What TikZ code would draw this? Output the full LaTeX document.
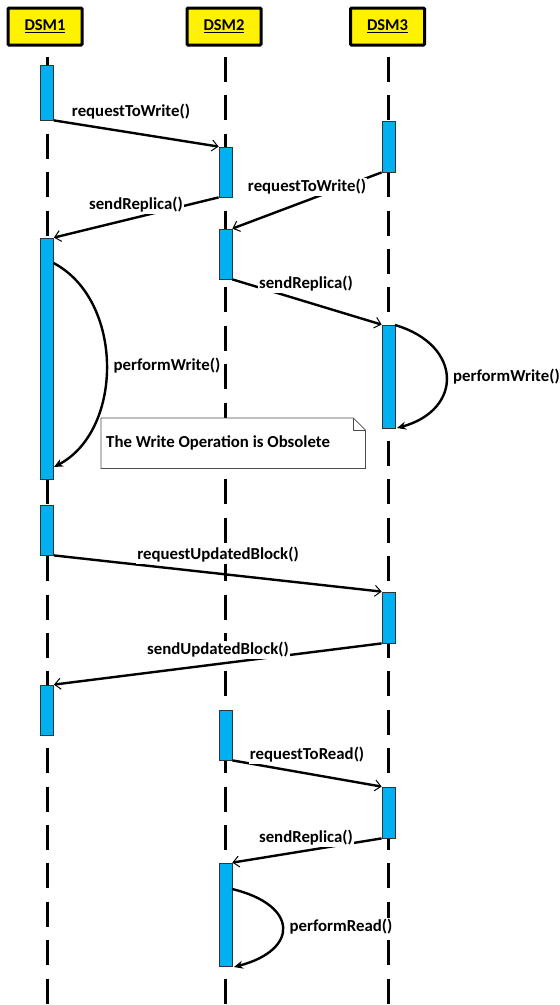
\documentclass[tikz,border=0pt]{standalone}
\usepackage{fontspec}
\setmainfont{Carlito}
\usetikzlibrary{arrows.meta}
\definecolor{actblue}{HTML}{00B0F0}
\begin{document}
\begin{tikzpicture}[x=1pt,y=-1pt,
 every node/.style={font=\fontsize{16.8}{19}\selectfont\bfseries},
 hdr/.style={draw, line width=3pt, fill=yellow, minimum width=74pt, minimum height=37pt, rounded corners=1pt, inner sep=0pt, font=\fontsize{16.5}{18}\selectfont\bfseries},
 lifeline/.style={line width=3pt, dash pattern=on 25pt off 13.4pt},
 act/.style={draw=black!80, line width=0.8pt, fill=actblue, minimum width=13pt, inner sep=0pt},
 msg/.style={line width=2.4pt, -{Straight Barb[length=6pt,width=11pt,line width=1pt]}},
 selfmsg/.style={line width=2.4pt, -{Stealth[length=9pt,width=8pt]}},
 lbl/.style={fill=white, inner sep=1pt},
 notebox/.style={draw=black!70, line width=0.8pt, fill=white},
]
\useasboundingbox (0,0) rectangle (560,1005);
\clip (0,0) rectangle (560,1005);

% headers
\node[hdr] (h1) at (45,26.5) {\underline{DSM1}};
\node[hdr] (h2) at (224,26.5) {\underline{DSM2}};
\node[hdr] (h3) at (387.5,26.5) {\underline{DSM3}};

% lifelines
\coordinate (t1) at (47,57);    \coordinate (e1) at (47,1010);
\coordinate (t2) at (225.5,57); \coordinate (e2) at (225.5,1010);
\coordinate (t3) at (388.5,57); \coordinate (e3) at (388.5,1010);
\draw[lifeline] (t1) -- (e1);
\draw[lifeline] (t2) -- (e2);
\draw[lifeline] (t3) -- (e3);

% activations DSM1
\node[act, minimum height=55pt]  (a1) at (47,92.5) {};
\node[act, minimum height=241pt] (a2) at (47,358.5) {};
\node[act, minimum height=50pt]  (a3) at (47,530) {};
\node[act, minimum height=50pt]  (a4) at (47,710) {};
% activations DSM2
\node[act, minimum height=50pt]  (b1) at (225.5,172) {};
\node[act, minimum height=50pt]  (b2) at (225.5,254) {};
\node[act, minimum height=50pt]  (b3) at (225.5,735) {};
\node[act, minimum height=103pt] (b4) at (225.5,914.5) {};
% activations DSM3
\node[act, minimum height=51pt]  (c1) at (388.5,146.5) {};
\node[act, minimum height=103pt] (c2) at (388.5,376.5) {};
\node[act, minimum height=51pt]  (c3) at (388.5,617.5) {};
\node[act, minimum height=51pt]  (c4) at (388.5,812.5) {};

% messages
\draw[msg] (a1.south east) -- (b1.north west);
\draw[msg] (b1.south west) -- (a2.north east);
\draw[msg] (c1.south west) -- (b2.north east);
\draw[msg] (b2.south east) -- (c2.north west);
\draw[msg] (a3.south east) -- (c3.north west);
\draw[msg] (c3.south west) -- (a4.north east);
\draw[msg] (b3.south east) -- (c4.north west);
\draw[msg] (c4.south west) -- (b4.north east);

% self messages
\coordinate (s1a) at (53.5,263); \coordinate (s1b) at (54,467);
\draw[selfmsg] (s1a) .. controls (124,300) and (124,430) .. (s1b);
\coordinate (s2a) at (395,325); \coordinate (s2b) at (397,428);
\draw[selfmsg] (s2a) .. controls (463,345) and (463,410) .. (s2b);
\coordinate (s3a) at (232,889); \coordinate (s3b) at (234,967);
\draw[selfmsg] (s3a) .. controls (299,905) and (299,950) .. (s3b);

% labels
\node[lbl] (m1) at (131,112) {requestToWrite()};
\node[lbl] (m2) at (136,205) {sendReplica()};
\node[lbl] (m3) at (307,187) {requestToWrite()};
\node[lbl] (m4) at (306,284) {sendReplica()};
\node[lbl] (m5) at (167,366) {performWrite()};
\node[lbl, anchor=west] (m6) at (452,377) {performWrite()};
\node[lbl] (m7) at (218,555) {requestUpdatedBlock()};
\node[lbl] (m8) at (218,650) {sendUpdatedBlock()};
\node[lbl] (m9) at (307,755) {requestToRead()};
\node[lbl] (m10) at (306,838) {sendReplica()};
\node[lbl] (m11) at (341,927) {performRead()};

% note
\node[fill=white, minimum width=264pt, minimum height=50pt, inner sep=0pt, anchor=north west] (note) at (101,418) {};
\draw[notebox] (note.north west) -- ([xshift=-12pt]note.north east) -- ([yshift=-12pt]note.north east) -- (note.south east) -- (note.south west) -- cycle;
\draw[draw=black!70, line width=0.8pt] ([xshift=-12pt]note.north east) -- ([xshift=-12pt,yshift=-12pt]note.north east) -- ([yshift=-12pt]note.north east);
\node[anchor=west, inner sep=0pt] (notetext) at (106,443) {The Write Operation is Obsolete};
\end{tikzpicture}
\end{document}
